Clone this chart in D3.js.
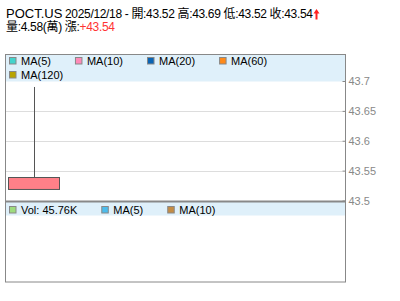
<!DOCTYPE html>
<html>
<head>
<meta charset="utf-8">
<script src="https://cdnjs.cloudflare.com/ajax/libs/d3/7.8.5/d3.min.js"></script>
<style>
	body { margin: 0; background: #fff; }
	svg { display: block; font-family: "Liberation Sans", Arial, "Noto Sans CJK TC", sans-serif; }
	.grid line { stroke: #ddd; }
	.axis text { fill: #888; font-size: 11px; }
	.legend text { font-size: 11px; fill: #000; }
</style>
</head>
<body>
<svg width="400" height="301"></svg>
<script>
	// data
	var symbol = 'POCT.US';
	var dates = ['2025/12/18'];
	var opens = [43.52];
	var highs = [43.69];
	var lows = [43.52];
	var closes = [43.54];
	var volumes = [45760];
	var changes = [43.54];
	var yTicks = [43.5, 43.55, 43.6, 43.65, 43.7];
	var priceLegend = ['MA(5)', 'MA(10)', 'MA(20)', 'MA(60)', 'MA(120)'];
	var priceColors = ['#44d4cc', '#ff8ab8', '#0a64b4', '#ff8a1a', '#b8a400'];
	var volLegend = ['Vol: ' + d3.format('.2f')(volumes[0] / 1000) + 'K', 'MA(5)', 'MA(10)'];
	var volColors = ['#9ddc7e', '#4cbcec', '#c48c44'];
	var slots = 6;

	var svg = d3.select('svg');
	var left = 5.5, right = 345.5;
	var mainTop = 54.5, mainBottom = 201.5, volBottom = 282;

	// header, line 1
	svg.append('text').attr('x', 6).attr('y', 18).attr('font-size', 13).text(symbol);
	var info = svg.append('text').attr('x', 65).attr('y', 18).attr('font-size', 12)
		.text(dates[0] + ' - 開:' + opens[0].toFixed(2) + ' 高:' + highs[0].toFixed(2) +
			' 低:' + lows[0].toFixed(2) + ' 收:' + closes[0].toFixed(2))
		.attr('textLength', 248).attr('lengthAdjust', 'spacing');
	var ax = 65 + 248 + 3.5;
	svg.append('path')
		.attr('d', 'M' + (ax - 3) + ',13.5 L' + ax + ',9 L' + (ax + 3) + ',13.5 L' + (ax + 1) + ',13.5 L' + (ax + 1) + ',19.5 L' +
			(ax - 1) + ',19.5 L' + (ax - 1) + ',13.5 Z')
		.attr('fill', '#f22');

	// header, line 2
	var h2 = svg.append('text').attr('x', 6).attr('y', 31).attr('font-size', 12)
		.attr('textLength', 109).attr('lengthAdjust', 'spacing');
	h2.append('tspan').text('量:' + d3.format('.2f')(volumes[0] / 10000) + '(萬) 漲:');
	h2.append('tspan').attr('fill', '#f33').text(d3.format('+.2f')(changes[0]));

	// scales
	var x = d3.scaleBand().domain(d3.range(slots)).range([left, right]).paddingInner(0.1).paddingOuter(0.05);
	var y = d3.scaleLinear().domain([43.5, 43.7]).range([200.5, 81]);

	// legend bands
	svg.append('rect').attr('x', left).attr('y', mainTop).attr('width', right - left).attr('height', 27).attr('fill', '#dff0fa');
	svg.append('rect').attr('x', left).attr('y', mainBottom).attr('width', right - left).attr('height', 14).attr('fill', '#dff0fa');

	// grid
	svg.append('g').attr('class', 'grid')
		.selectAll('line').data(yTicks.slice(1, -1)).enter().append('line')
		.attr('x1', left).attr('x2', right - 3)
		.attr('y1', function(d) { return Math.round(y(d)) + 0.5; })
		.attr('y2', function(d) { return Math.round(y(d)) + 0.5; });

	// right axis
	var axis = d3.axisRight(y).tickValues(yTicks).tickSize(0).tickPadding(3)
		.tickFormat(function(d) { return d3.format('')(+d.toFixed(2)); });
	var ag = svg.append('g').attr('class', 'axis').attr('transform', 'translate(' + right + ',0)').call(axis);
	ag.select('.domain').remove();
	ag.selectAll('.tick').append('line').attr('x1', -3).attr('x2', 0).attr('stroke', '#888');

	// candles
	var c = svg.append('g').selectAll('g').data(dates).enter().append('g');
	c.append('line')
		.attr('x1', function(d, i) { return Math.round(x(i) + x.bandwidth() / 2) + 0.5; })
		.attr('x2', function(d, i) { return Math.round(x(i) + x.bandwidth() / 2) + 0.5; })
		.attr('y1', function(d, i) { return y(highs[i]); })
		.attr('y2', function(d, i) { return y(lows[i]); })
		.attr('stroke', '#555');
	c.append('rect')
		.attr('x', function(d, i) { return Math.round(x(i)) + 0.5; })
		.attr('width', x.bandwidth())
		.attr('y', function(d, i) { return Math.round(y(Math.max(opens[i], closes[i]))) + 0.5; })
		.attr('height', function(d, i) { return Math.abs(y(opens[i]) - y(closes[i])); })
		.attr('fill', function(d, i) { return closes[i] >= opens[i] ? '#ff8088' : '#6c6'; })
		.attr('stroke', '#555');

	// borders
	svg.append('rect').attr('x', left).attr('y', mainTop).attr('width', right - left).attr('height', volBottom - mainTop)
		.attr('fill', 'none').attr('stroke', '#888');
	svg.append('line').attr('x1', left).attr('x2', right).attr('y1', mainBottom).attr('y2', mainBottom)
		.attr('stroke', '#888').attr('stroke-width', 2);

	// legends
	function legend(names, colors, y0) {
		var g = svg.append('g').attr('class', 'legend');
		var cx = 9.5, cy = y0;
		names.forEach(function(n, i) {
			var t = g.append('text').attr('dy', '0.35em').text(n);
			var w = t.node().getComputedTextLength();
			if (cx + 12 + w > right - 5) { cx = 9.5; cy += 14; }
			t.attr('x', cx + 11.5).attr('y', cy);
			g.append('rect').attr('x', cx).attr('y', cy - 3.5).attr('width', 6.5).attr('height', 6.5)
				.attr('fill', colors[i]).attr('stroke', '#888');
			cx += 12 + w + 24;
		});
	}
	legend(priceLegend, priceColors, 61);
	legend(volLegend, volColors, 210);
</script>
</body>
</html>
